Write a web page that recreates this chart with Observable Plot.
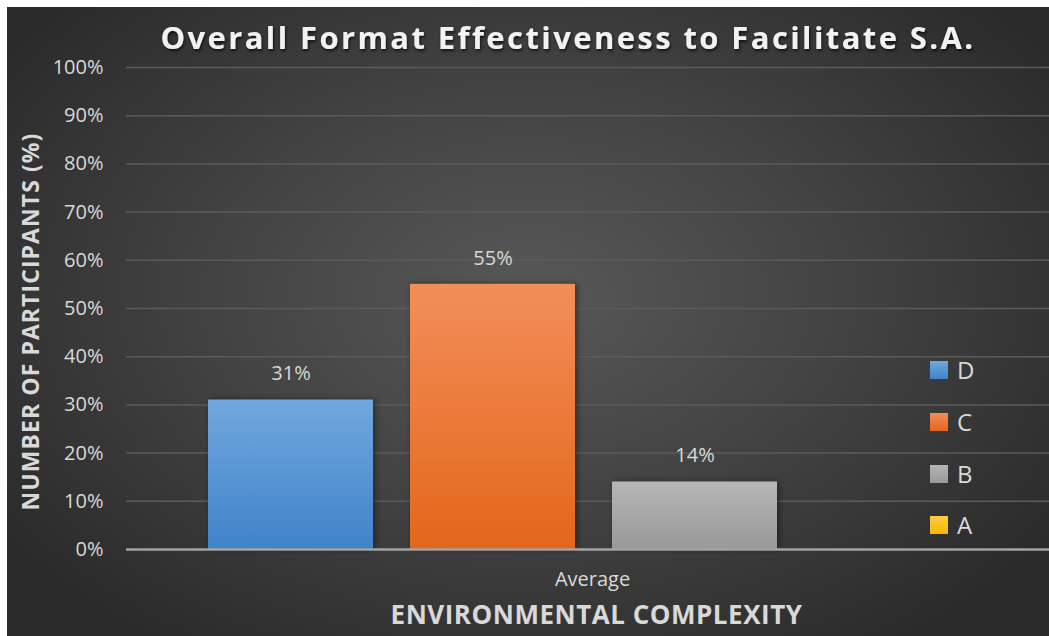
<!DOCTYPE html>
<html>
<head>
<meta charset="utf-8">
<script src="https://cdn.jsdelivr.net/npm/d3@7"></script>
<script src="https://cdn.jsdelivr.net/npm/@observablehq/plot@0.6"></script>
<style>
  html, body { margin: 0; padding: 0; background: #ffffff; }
  #chart {
    position: absolute; left: 7px; top: 7px; width: 1042px; height: 629px; overflow: hidden;
    background: radial-gradient(ellipse 62% 68% at 50% 46%, #585858 0%, #424242 50%, #2a2a2a 100%);
    font-family: "Open Sans", sans-serif;
  }
  #chart svg { position: absolute; left: 0; top: 0; }
  .legend-item { position: absolute; display: flex; align-items: center; gap: 9px;
    color: #d9d9d9; font-size: 24px; height: 30px; line-height: 30px; }
  .legend-item .sw { width: 18px; height: 18px; }
</style>
</head>
<body>
<div id="chart"></div>
<script>
// Series shown in the chart (bars left to right) and their values in percent
const series = ["D", "C", "B", "A"];
const values = [31, 55, 14, 0];
const yTicks = [0, 10, 20, 30, 40, 50, 60, 70, 80, 90, 100];
const category = "Average";
const title = "Overall Format Effectiveness to Facilitate S.A.";
const xTitle = "ENVIRONMENTAL COMPLEXITY";
const yTitle = "NUMBER OF PARTICIPANTS (%)";

// Gradient stops per series (top, bottom)
const palette = {
  D: ["#71a8de", "#4083c9"],
  C: ["#f28e5a", "#e4661a"],
  B: ["#b6b6b6", "#999999"],
  A: ["#ffcd45", "#f4b800"]
};

const data = series.map((s, i) => ({series: s, value: values[i]}));
const text = "#d9d9d9";

const plot = Plot.plot({
  width: 1042,
  height: 629,
  marginTop: 60,
  marginBottom: 87,
  marginLeft: 119,
  marginRight: 0,
  style: {background: "transparent", color: text, fontFamily: "'Open Sans', sans-serif", fontSize: "20px"},
  x: {type: "band", domain: series, range: [200, 972], paddingInner: 0.185, paddingOuter: 0, axis: null},
  y: {domain: [0, 100], axis: null},
  color: {type: "identity"},
  marks: [
    Plot.ruleY(yTicks.filter(d => d > 0), {stroke: "#5b5b5b", strokeWidth: 1.5}),
    Plot.axisY(yTicks, {tickSize: 0, tickPadding: 23, tickFormat: d => d + "%", fontSize: 20, fill: text, label: null}),
    Plot.barY(data, {x: "series", y: "value", fill: d => `url(#grad-${d.series})`}),
    Plot.ruleY([0], {stroke: "#a3a3a3", strokeWidth: 2.5}),
    Plot.text(data.filter(d => d.value > 0), {
      x: "series", y: "value", text: d => d.value + "%", dy: -26, fill: text, fontSize: 20
    }),
    Plot.text([category], {frameAnchor: "bottom", dx: 4.5, dy: 36, fill: text, fontSize: 20}),
    Plot.text([xTitle], {frameAnchor: "bottom", dx: 8.5, dy: 74, fill: text, fontSize: 26, fontWeight: "bold"}),
    Plot.text([yTitle], {
      frameAnchor: "left", textAnchor: "middle", lineAnchor: "middle", rotate: -90,
      dx: -95, dy: 13, fill: text, fontSize: 23, fontWeight: "bold"
    }),
    Plot.text([title], {frameAnchor: "top", dx: -20, dy: -41, fill: "#f2f2f2", fontSize: 31, fontWeight: "bold"})
  ]
});

// Gradients and shadows referenced by the bars and title
const svg = d3.select(plot);
const defs = svg.insert("defs", ":first-child");
for (const s of series) {
  const g = defs.append("linearGradient").attr("id", `grad-${s}`)
    .attr("x1", 0).attr("y1", 0).attr("x2", 0).attr("y2", 1);
  g.append("stop").attr("offset", "0%").attr("stop-color", palette[s][0]);
  g.append("stop").attr("offset", "100%").attr("stop-color", palette[s][1]);
}
defs.append("filter").attr("id", "barShadow").attr("x", "-20%").attr("y", "-20%")
  .attr("width", "140%").attr("height", "140%")
  .append("feDropShadow").attr("dx", 2).attr("dy", 0).attr("stdDeviation", 3)
  .attr("flood-color", "#000").attr("flood-opacity", 0.45);
defs.append("filter").attr("id", "titleShadow").attr("x", "-5%").attr("y", "-30%")
  .attr("width", "110%").attr("height", "160%")
  .append("feDropShadow").attr("dx", 1).attr("dy", 2).attr("stdDeviation", 1.5)
  .attr("flood-color", "#000").attr("flood-opacity", 0.7);

svg.selectAll("g[aria-label='bar'] rect").attr("filter", "url(#barShadow)");

const chart = document.getElementById("chart");
chart.appendChild(plot);

// Spread the titles' letters out to their target widths
const fit = {[title]: 815, [xTitle]: 412, [yTitle]: 378};
svg.selectAll("text").each(function () {
  const t = this.textContent;
  if (fit[t]) {
    const natural = this.getComputedTextLength();
    const spacing = (fit[t] - natural) / t.length;
    d3.select(this).attr("letter-spacing", spacing.toFixed(2));
    if (t === title) d3.select(this).attr("filter", "url(#titleShadow)");
  }
});

// Legend, listed top to bottom in series order
series.forEach((s, i) => {
  const item = document.createElement("div");
  item.className = "legend-item";
  item.style.left = "923px";
  item.style.top = (348 + i * 51.8) + "px";
  const sw = document.createElement("div");
  sw.className = "sw";
  sw.style.background = `linear-gradient(${palette[s][0]}, ${palette[s][1]})`;
  const lab = document.createElement("span");
  lab.textContent = s;
  item.appendChild(sw);
  item.appendChild(lab);
  chart.appendChild(item);
});
</script>
</body>
</html>
